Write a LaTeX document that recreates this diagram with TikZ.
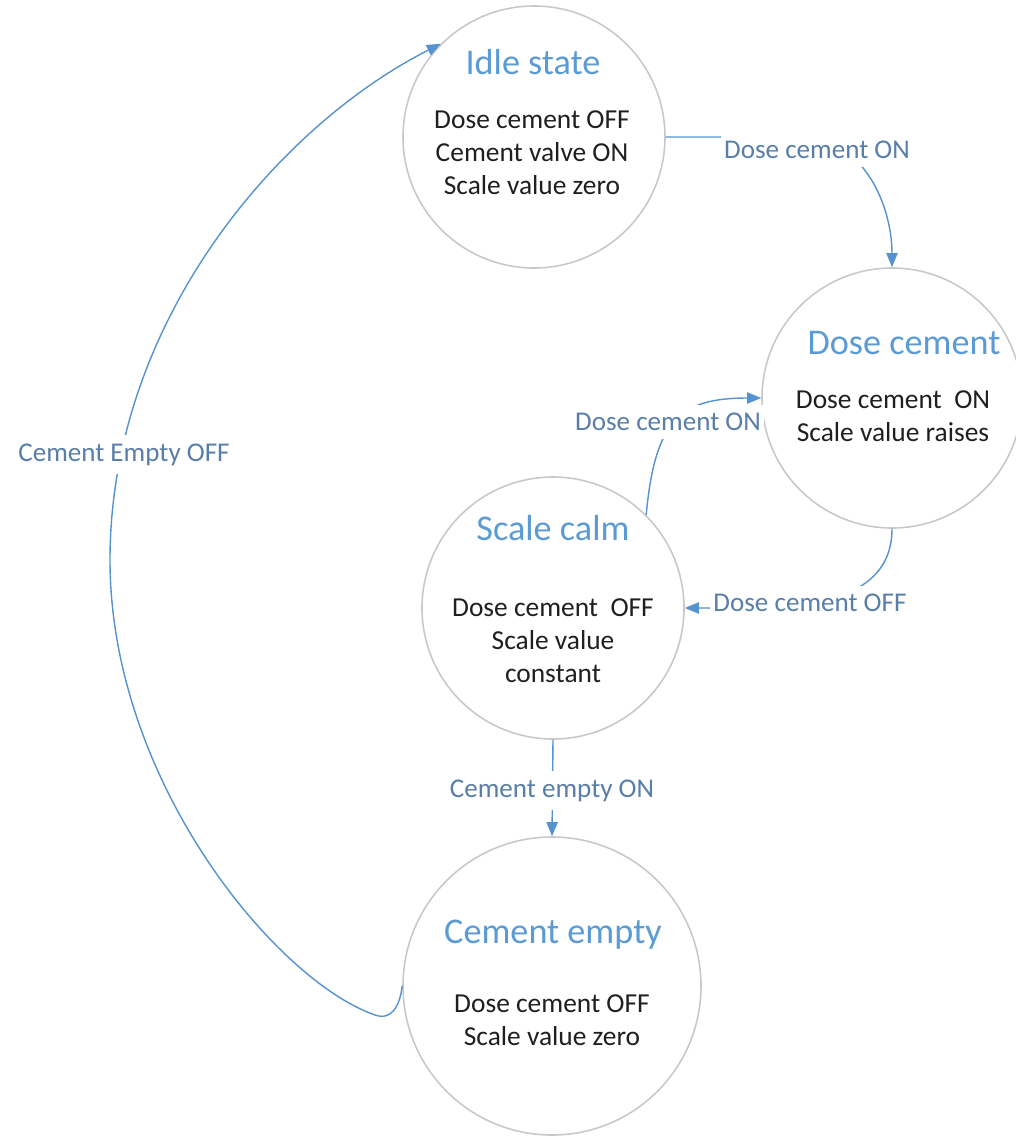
\documentclass[tikz,border=0pt]{standalone}
\usepackage{fontspec}
\setmainfont{Carlito}
\usetikzlibrary{arrows.meta}
\definecolor{titleblue}{RGB}{91,155,213}
\definecolor{lblblue}{RGB}{88,126,170}
\definecolor{flowblue}{RGB}{84,146,208}
\definecolor{ringgray}{RGB}{200,200,200}

\begin{document}
\begin{tikzpicture}[
   stcircle/.style={circle,draw=ringgray,line width=0.45pt,inner sep=0pt,minimum size=2.62cm},
   sttitle/.style={text=titleblue,font=\fontsize{10.3}{12}\selectfont},
   stbody/.style={align=center,text=black!88,font=\fontsize{7.8}{9.4}\selectfont},
   edgelbl/.style={fill=white,text=lblblue,inner xsep=1pt,inner ysep=2.3pt,font=\fontsize{7.7}{9}\selectfont},
   flow/.style={draw=flowblue,line width=0.4pt,-{Triangle[length=4pt,width=3.2pt]}}]
\useasboundingbox (0,0) rectangle (10.15,-11.37);
% stati
   \node[stcircle] (idle) at (5.34,-1.37) {};
   \node[stcircle,minimum size=2.60cm] (dose) at (8.92,-3.98) {};
   \node[stcircle] (scale) at (5.53,-6.08) {};
   \node[stcircle,minimum size=2.98cm] (empty) at (5.52,-9.86) {};
% testi degli stati
   \node[sttitle] (idleT) at (5.33,-0.62) {Idle state};
   \node[stbody] (idleB) at (5.32,-1.53)
   {Dose cement OFF\\Cement valve ON\\Scale value zero};
   \node[sttitle] (doseT) at (9.04,-3.43) {Dose cement};
   \node[stbody] (doseB) at (8.93,-4.16)
   {Dose cement\ \ ON\\Scale value raises};
   \node[sttitle] (scaleT) at (5.53,-5.28) {Scale calm};
   \node[stbody] (scaleB) at (5.53,-6.41)
   {Dose cement\ \ OFF\\Scale value\\constant};
   \node[sttitle] (emptyT) at (5.53,-9.345) {Cement empty};
   \node[stbody] (emptyB) at (5.52,-10.20)
   {Dose cement OFF\\Scale value zero};
% transizioni
   \draw[flow] (idle.east) -- ++(1.35,0) to[out=0,in=90] (dose.north);
   \draw[flow] (scale.45) .. controls (6.55,-4.20) and (6.80,-3.98) ..
   (dose.west);
   \draw[flow] (dose.south) to[out=-90,in=0] (scale.east);
   \draw[flow] (scale.south) -- (empty.north);
   \draw[flow] (empty.west) .. controls (4.00,-10.05) and (3.92,-10.21) ..
   (3.75,-10.15) .. controls (2.75,-9.80) and (1.10,-7.80) .. (1.10,-5.60)
   .. controls (1.10,-3.20) and (2.80,-1.25) .. (idle.135);
% etichette
   \node[edgelbl] (lblA) at (8.17,-1.50) {Dose cement ON};
   \node[edgelbl] (lblB) at (6.68,-4.22) {Dose cement ON};
   \node[edgelbl] (lblC) at (8.10,-6.03) {Dose cement OFF};
   \node[edgelbl] (lblD) at (5.52,-7.905) {Cement empty ON};
   \node[edgelbl] (lblE) at (1.24,-4.545) {Cement Empty OFF};
\end{tikzpicture}
\end{document}
